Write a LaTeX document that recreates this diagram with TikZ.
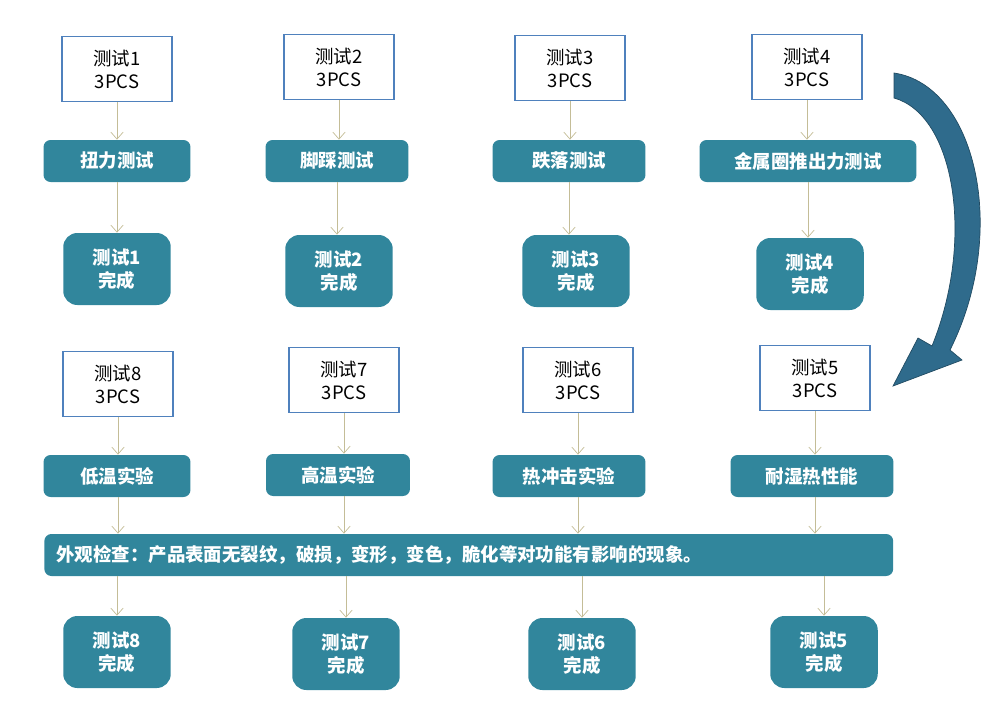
\documentclass[tikz,border=0pt]{standalone}
\usepackage{fontspec}
\setmainfont{Noto Sans CJK SC}
\definecolor{tealbox}{HTML}{31869C}
\definecolor{framblue}{HTML}{4F81BD}
\definecolor{linkgray}{HTML}{C4BD97}
\definecolor{bigarrow}{HTML}{2F6B8C}
\newcommand\boxfont{\fontsize{10.5}{13}\selectfont}
\tikzset{
  countbox/.style={draw=framblue, line width=1pt, fill=white, minimum width=2.2cm,
    minimum height=1.3cm, align=center, font=\boxfont},
  testbox/.style={fill=tealbox, rounded corners=4pt, text=white, minimum height=.84cm,
    font=\boxfont\bfseries, inner sep=0pt},
  donebox/.style={fill=tealbox, rounded corners=8pt, text=white, minimum width=2.15cm,
    minimum height=1.44cm, align=center, font=\boxfont\bfseries},
  link/.style={draw=linkgray, thin, -{Straight Barb[length=4pt,width=7pt]}}
}
\usetikzlibrary{arrows.meta}
\begin{document}
\begin{tikzpicture}[x=0.02cm, y=-0.02cm]
  \useasboundingbox (0,0) rectangle (1004,711);
  % upper row
  \node[countbox] (c1) at (117,69) {测试1\\3PCS};
  \node[countbox] (c2) at (339,67) {测试2\\3PCS};
  \node[countbox] (c3) at (570,68) {测试3\\3PCS};
  \node[countbox] (c4) at (807,67) {测试4\\3PCS};
  \node[testbox, minimum width=2.94cm] (t1) at (117,161) {扭力测试};
  \node[testbox, minimum width=2.86cm] (t2) at (337,161) {脚踩测试};
  \node[testbox, minimum width=3.06cm] (t3) at (569,161) {跌落测试};
  \node[testbox, minimum width=4.34cm] (t4) at (808,161) {金属圈推出力测试};
  \node[donebox] (d1) at (117,269) {测试1\\完成};
  \node[donebox] (d2) at (339,271) {测试2\\完成};
  \node[donebox] (d3) at (576,271) {测试3\\完成};
  \node[donebox] (d4) at (810,274) {测试4\\完成};
  \foreach \i in {1,...,4} {
    \draw[link] (c\i) -- (c\i |- t\i.north);
    \draw[link] (t\i) -- (t\i |- d\i.north);
  }
  % lower row
  \node[countbox] (c8) at (118,384) {测试8\\3PCS};
  \node[countbox] (c7) at (344,380) {测试7\\3PCS};
  \node[countbox] (c6) at (578,380) {测试6\\3PCS};
  \node[countbox] (c5) at (815,378) {测试5\\3PCS};
  \node[testbox, minimum width=2.94cm] (t8) at (117,476) {低温实验};
  \node[testbox, minimum width=2.88cm] (t7) at (338,475) {高温实验};
  \node[testbox, minimum width=3.06cm] (t6) at (569,476) {热冲击实验};
  \node[testbox, minimum width=3.26cm] (t5) at (812,476) {耐湿热性能};
  \node[testbox, minimum width=16.98cm, anchor=west, text width=16.5cm] (look) at (44,555)
    {外观检查：产品表面无裂纹，破损，变形，变色，脆化等对功能有影响的现象。};
  \node[donebox] (d8) at (117,652) {测试8\\完成};
  \node[donebox] (d7) at (346,654) {测试7\\完成};
  \node[donebox] (d6) at (582,654) {测试6\\完成};
  \node[donebox] (d5) at (824,652) {测试5\\完成};
  \foreach \i in {5,...,8} {
    \draw[link] (c\i) -- (c\i |- t\i.north);
    \draw[link] (c\i |- t\i.south) -- (c\i |- look.north);
    \draw[link] (d\i |- look.south) -- (d\i);
  }
  % turning arrow
  \fill[bigarrow, draw=bigarrow!70!black]
    (894,73) .. controls (975,85) and (1010,230) .. (950,350)
    -- (962,360) -- (893,386) -- (918,338) -- (932,346)
    .. controls (975,240) and (955,115) .. (894,98) -- cycle;
\end{tikzpicture}
\end{document}
